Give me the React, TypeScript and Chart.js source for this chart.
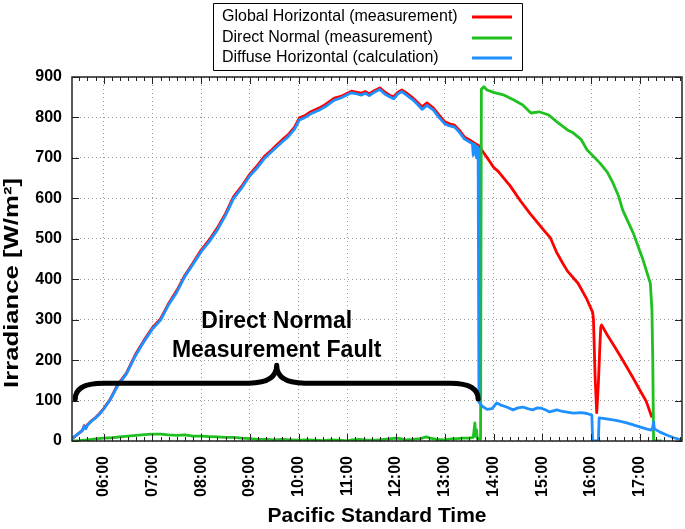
import React, { useEffect, useRef } from "react";
import { Chart, registerables } from "chart.js";

Chart.register(...registerables);

const FONT = "'Liberation Sans', Arial, Helvetica, sans-serif";

// ---------- data (Pacific Standard Time, W/m²) ----------
const ghiTime = [
  "05:21", "05:25", "05:30", "05:34", "05:36", "05:38", "05:40", "05:45", "05:50", "05:55",
  "06:00", "06:08", "06:17", "06:28", "06:40", "06:50", "07:00", "07:10", "07:20", "07:30",
  "07:40", "07:50", "08:00", "08:10", "08:20", "08:30", "08:40", "08:50", "09:00", "09:08",
  "09:18", "09:25", "09:33", "09:40", "09:47", "09:55", "10:01", "10:08", "10:15", "10:25",
  "10:33", "10:44", "10:52", "11:00", "11:05", "11:12", "11:17", "11:22", "11:27", "11:33",
  "11:40", "11:46", "11:52", "11:57", "12:02", "12:07", "12:13", "12:19", "12:25", "12:32",
  "12:38", "12:46", "12:52", "13:00", "13:06", "13:12", "13:18", "13:24", "13:30", "13:36",
  "13:42", "13:48", "13:54", "14:00", "14:06", "14:12", "14:20", "14:33", "14:45", "15:02",
  "15:10", "15:18", "15:25", "15:31", "15:44", "15:55", "16:02", "16:03", "16:05", "16:07",
  "16:09", "16:11", "16:12", "16:13", "16:20", "16:27", "16:36", "16:44", "16:52", "17:00",
  "17:08", "17:15"
];
const ghiValue = [
  6, 12, 20, 27, 38, 33, 40, 50, 58, 68,
  80, 103, 138, 168, 217, 250, 280, 302, 340, 372,
  410, 440, 472, 497, 527, 562, 604, 630, 660, 678,
  704, 716, 732, 745, 757, 776, 799, 805, 814, 823,
  832, 848, 852, 860, 865, 862, 860, 864, 858, 866,
  873, 863, 855, 851, 862, 868, 860, 851, 840, 826,
  836, 823, 808, 789, 784, 781, 768, 752, 745, 737,
  730, 712, 695, 677, 666, 651, 632, 594, 562, 521,
  502, 465, 440, 420, 390, 350, 318, 300, 160, 70,
  140, 240, 282, 287, 262, 240, 210, 183, 155, 126,
  98, 58
];

const dniTime = [
  "05:21", "05:30", "05:40", "05:50", "06:00", "06:10", "06:20", "06:30", "06:40", "06:50",
  "07:00", "07:10", "07:20", "07:30", "07:40", "07:50", "08:00", "08:10", "08:20", "08:30",
  "08:40", "08:50", "09:00", "09:10", "09:20", "09:30", "09:40", "09:50", "10:00", "10:10",
  "10:20", "10:30", "10:40", "10:50", "11:00", "11:05", "11:15", "11:25", "11:35", "11:45",
  "11:55", "12:00", "12:05", "12:12", "12:20", "12:30", "12:37", "12:42", "12:50", "13:00",
  "13:08", "13:15", "13:22", "13:30", "13:35", "13:37", "13:38", "13:39", "13:40", "13:43",
  "13:44", "13:45", "13:48", "13:52", "14:00", "14:12", "14:25", "14:36", "14:46", "14:56",
  "15:08", "15:18", "15:31", "15:38", "15:48", "15:55", "16:11", "16:20", "16:27", "16:34",
  "16:39", "16:52", "17:04", "17:13", "17:15", "17:16", "17:17", "17:27"
];
const dniValue = [
  0, 1, 3, 5, 7, 8, 10, 12, 14, 16,
  17, 17, 15, 14, 15, 12, 12, 11, 10, 9,
  9, 7, 6, 4, 4, 3, 4, 3, 2, 3,
  2, 1, 3, 2, 0, 3, 4, 2, 2, 4,
  6, 7, 6, 3, 4, 6, 10, 7, 4, 3,
  5, 6, 7, 7, 9, 45, 12, 28, 6, 5,
  5, 870, 876, 868, 862, 856, 843, 831, 811, 814,
  806, 789, 769, 762, 745, 720, 687, 665, 638, 605,
  571, 514, 448, 390, 324, 200, 0, 0
];

const dhiTime = [
  "05:21", "05:25", "05:30", "05:34", "05:36", "05:38", "05:40", "05:45", "05:50", "05:55",
  "06:00", "06:08", "06:17", "06:28", "06:40", "06:50", "07:00", "07:10", "07:20", "07:30",
  "07:40", "07:50", "08:00", "08:10", "08:20", "08:30", "08:40", "08:50", "09:00", "09:08",
  "09:18", "09:25", "09:33", "09:40", "09:47", "09:55", "10:01", "10:08", "10:15", "10:25",
  "10:33", "10:44", "10:52", "11:00", "11:05", "11:12", "11:17", "11:22", "11:27", "11:33",
  "11:40", "11:46", "11:52", "11:57", "12:02", "12:07", "12:13", "12:19", "12:25", "12:32",
  "12:38", "12:46", "12:52", "13:00", "13:06", "13:12", "13:18", "13:24", "13:30", "13:34",
  "13:35", "13:36", "13:38", "13:39", "13:40", "13:41", "13:42", "13:46", "13:52", "13:58",
  "14:04", "14:10", "14:16", "14:24", "14:30", "14:36", "14:42", "14:48", "14:54", "14:59",
  "15:05", "15:09", "15:18", "15:25", "15:38", "15:48", "15:55", "16:01", "16:02", "16:09",
  "16:10", "16:15", "16:27", "16:35", "16:44", "16:52", "17:00", "17:08", "17:14", "17:16",
  "17:17", "17:18", "17:25", "17:33", "17:42", "17:52"
];
const dhiValue = [
  6, 12, 20, 26, 37, 30, 39, 49, 57, 67,
  79, 102, 136, 166, 214, 247, 277, 299, 337, 368,
  407, 437, 468, 493, 522, 558, 600, 626, 656, 673,
  699, 712, 727, 740, 752, 771, 794, 800, 809, 818,
  827, 843, 848, 856, 861, 858, 855, 860, 854, 862,
  869, 858, 851, 846, 858, 864, 855, 846, 835, 820,
  830, 818, 802, 784, 779, 776, 763, 747, 740, 735,
  706, 734, 730, 700, 728, 722, 96, 86, 78, 80,
  94, 88, 84, 77, 82, 84, 80, 77, 82, 81,
  76, 72, 77, 73, 69, 70, 68, 64, 0, 0,
  57, 56, 52, 49, 45, 40, 35, 30, 27, 34,
  47, 30, 22, 15, 8, 2
];

const xRange = ["05:21", "17:52"];
const hourTicks = ["06:00", "07:00", "08:00", "09:00", "10:00", "11:00", "12:00", "13:00", "14:00", "15:00", "16:00", "17:00"];
const yTickValues = [0, 100, 200, 300, 400, 500, 600, 700, 800, 900];

const seriesLabels = ["Global Horizontal (measurement)", "Direct Normal (measurement)", "Diffuse Horizontal (calculation)"];
const seriesColors = ["#ff0000", "#1fc01f", "#1e90ff"];
const xTitle = "Pacific Standard Time";
const yTitle = "Irradiance [W/m²]";
const noteLines = ["Direct Normal", "Measurement Fault"];
// brace annotation anchors (time, W/m²)
const braceSpan = ["05:25", "13:41"];
const braceTip = "09:33";
const braceLevels = [104, 143, 187]; // ends, flat, tip
const noteLevels = [279, 208];

function hours(s: string): number {
  const [h, m] = s.split(":").map(Number);
  return h + m / 60;
}
function points(times: string[], values: number[]) {
  return times.map((t, i) => ({ x: hours(t), y: values[i] }));
}
function hourLabel(v: number): string {
  const h = Math.round(v);
  return String(h).padStart(2, "0") + ":00";
}

const decorPlugin = {
  id: "decor",
  afterDraw(chart: any) {
    const { ctx, chartArea: a } = chart;
    const xs = chart.scales.x;
    const ys = chart.scales.y;
    ctx.save();

    // frame
    ctx.strokeStyle = "#222";
    ctx.lineWidth = 1.5;
    ctx.strokeRect(a.left, a.top, a.right - a.left, a.bottom - a.top);

    // inward tick marks
    ctx.lineWidth = 1;
    ctx.beginPath();
    const step = 1 / 6;
    for (let k = Math.ceil(xs.min / step - 1e-6); k * step <= xs.max + 1e-9; k++) {
      const v = k * step;
      const px = Math.round(xs.getPixelForValue(v)) + 0.5;
      const major = k % 6 === 0;
      const len = major ? 7 : 4;
      ctx.moveTo(px, a.bottom);
      ctx.lineTo(px, a.bottom - len);
      ctx.moveTo(px, a.top);
      ctx.lineTo(px, a.top + len);
    }
    for (const t of yTickValues) {
      const py = Math.round(ys.getPixelForValue(t)) + 0.5;
      ctx.moveTo(a.left, py);
      ctx.lineTo(a.left + 7, py);
      ctx.moveTo(a.right, py);
      ctx.lineTo(a.right - 7, py);
    }
    ctx.stroke();

    // brace
    const x0 = xs.getPixelForValue(hours(braceSpan[0]));
    const x1 = xs.getPixelForValue(hours(braceSpan[1]));
    const xt = xs.getPixelForValue(hours(braceTip));
    const yEnd = ys.getPixelForValue(braceLevels[0]);
    const yFlat = ys.getPixelForValue(braceLevels[1]);
    const yTip = ys.getPixelForValue(braceLevels[2]);
    const r = 28;
    ctx.strokeStyle = "#000";
    ctx.lineWidth = 5;
    ctx.lineCap = "round";
    ctx.lineJoin = "round";
    ctx.beginPath();
    ctx.moveTo(x0, yEnd);
    ctx.quadraticCurveTo(x0, yFlat, x0 + r, yFlat);
    ctx.lineTo(xt - r, yFlat);
    ctx.quadraticCurveTo(xt, yFlat, xt, yTip);
    ctx.quadraticCurveTo(xt, yFlat, xt + r, yFlat);
    ctx.lineTo(x1 - r, yFlat);
    ctx.quadraticCurveTo(x1, yFlat, x1, yEnd);
    ctx.stroke();

    // annotation text
    ctx.fillStyle = "#000";
    ctx.font = `bold 23px ${FONT}`;
    ctx.textAlign = "center";
    ctx.textBaseline = "alphabetic";
    noteLines.forEach((line, i) => {
      ctx.fillText(line, xt, ys.getPixelForValue(noteLevels[i]));
    });

    // y-axis title
    ctx.save();
    ctx.font = `bold 20px ${FONT}`;
    const w = ctx.measureText(yTitle).width;
    ctx.translate(18, 283);
    ctx.rotate(-Math.PI / 2);
    ctx.scale(210 / w, 1);
    ctx.textAlign = "center";
    ctx.textBaseline = "alphabetic";
    ctx.fillText(yTitle, 0, 0);
    ctx.restore();

    // legend box
    ctx.fillStyle = "#fff";
    ctx.fillRect(213, 3, 309, 67);
    ctx.strokeStyle = "#000";
    ctx.lineWidth = 1;
    ctx.lineCap = "butt";
    ctx.strokeRect(213.5, 3.5, 309, 67);
    ctx.font = `16px ${FONT}`;
    ctx.textAlign = "left";
    ctx.textBaseline = "middle";
    const rows = [17, 38, 58];
    seriesLabels.forEach((lab, i) => {
      ctx.fillStyle = "#000";
      ctx.fillText(lab, 222, rows[i]);
      ctx.strokeStyle = seriesColors[i];
      ctx.lineWidth = 3;
      ctx.beginPath();
      ctx.moveTo(472, rows[i]);
      ctx.lineTo(512, rows[i]);
      ctx.stroke();
    });

    ctx.restore();
  },
};

export default function App() {
  const canvasRef = useRef<HTMLCanvasElement | null>(null);

  useEffect(() => {
    document.body.style.margin = "0";
    const canvas = canvasRef.current;
    if (!canvas) return;

    const chart = new Chart(canvas, {
      type: "line",
      data: {
        datasets: [
          {
            label: seriesLabels[2],
            data: points(dhiTime, dhiValue),
            borderColor: seriesColors[2],
            borderWidth: 2.8,
            order: 0,
          },
          {
            label: seriesLabels[1],
            data: points(dniTime, dniValue),
            borderColor: seriesColors[1],
            borderWidth: 2.8,
            order: 1,
          },
          {
            label: seriesLabels[0],
            data: points(ghiTime, ghiValue),
            borderColor: seriesColors[0],
            borderWidth: 2.8,
            order: 2,
          },
        ],
      },
      options: {
        animation: false,
        responsive: false,
        devicePixelRatio: 1,
        parsing: false,
        layout: { padding: { top: 77, right: 3, left: 0, bottom: 0 } },
        plugins: {
          legend: { display: false },
          tooltip: { enabled: false },
        },
        elements: {
          point: { radius: 0 },
          line: { tension: 0, fill: false, borderJoinStyle: "round" },
        },
        scales: {
          x: {
            type: "linear",
            min: hours(xRange[0]),
            max: hours(xRange[1]),
            afterBuildTicks: (s: any) => {
              s.ticks = hourTicks.map((t) => ({ value: hours(t) }));
            },
            afterFit: (s: any) => {
              s.height = 88;
            },
            ticks: {
              autoSkip: false,
              minRotation: 90,
              maxRotation: 90,
              padding: 15,
              color: "#000",
              font: { family: FONT, size: 16, weight: "bold" },
              callback: (v: any) => hourLabel(Number(v)),
            },
            grid: { color: "#9a9a9a", lineWidth: 1, drawTicks: false },
            border: { display: false, dash: [1, 3] },
            title: {
              display: true,
              text: xTitle,
              color: "#000",
              font: { family: FONT, size: 21, weight: "bold" },
              padding: { top: 0, bottom: 0 },
            },
          },
          y: {
            min: 0,
            max: 900,
            afterBuildTicks: (s: any) => {
              s.ticks = yTickValues.map((v) => ({ value: v }));
            },
            afterFit: (s: any) => {
              s.width = 72;
            },
            ticks: {
              padding: 10,
              color: "#000",
              font: { family: FONT, size: 16, weight: "bold" },
            },
            grid: { color: "#9a9a9a", lineWidth: 1, drawTicks: false },
            border: { display: false, dash: [1, 3] },
          },
        },
      },
      plugins: [decorPlugin],
    } as any);

    return () => {
      chart.destroy();
    };
  }, []);

  return (
    <div style={{ width: 685, height: 529, background: "#fff" }}>
      <canvas ref={canvasRef} width={685} height={529} style={{ display: "block", width: 685, height: 529 }} />
    </div>
  );
}
